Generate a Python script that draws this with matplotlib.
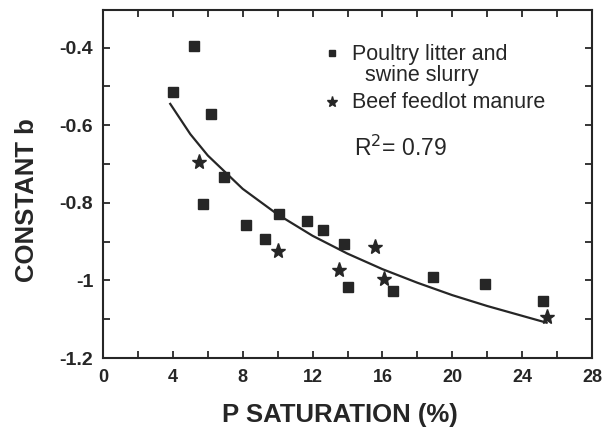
import matplotlib
matplotlib.use("Agg")
import matplotlib.pyplot as plt
from matplotlib.ticker import MultipleLocator
from matplotlib.transforms import ScaledTranslation

plt.rcParams["font.family"] = ["Liberation Sans", "DejaVu Sans"]

# Poultry litter and swine slurry (squares)
poultry_x = [4.0, 5.2, 6.2, 6.9, 5.7, 8.2, 10.1, 9.3, 11.7, 12.6, 13.8, 14.0, 16.6, 18.9, 21.9, 25.2]
poultry_y = [-0.515, -0.395, -0.57, -0.733, -0.802, -0.857, -0.828, -0.893, -0.846, -0.869,
             -0.905, -1.018, -1.028, -0.99, -1.01, -1.054]

# Beef feedlot manure (stars)
beef_x = [5.5, 10.0, 13.5, 15.6, 16.1, 25.4]
beef_y = [-0.695, -0.923, -0.974, -0.915, -0.997, -1.095]

# fitted curve
curve_x = [3.85, 5, 6, 8, 10, 12, 14, 16, 18, 20, 22, 25.4]
curve_y = [-0.545, -0.623, -0.678, -0.764, -0.830, -0.885, -0.931, -0.971, -1.006, -1.038, -1.066, -1.109]

ink = "#262626"

fig = plt.figure(figsize=(6.03, 4.29), dpi=100)
ax = fig.add_axes([0.1708, 0.1655, 0.811, 0.8112])

ax.plot(curve_x, curve_y, color=ink, linewidth=1.6)
ax.plot(poultry_x, poultry_y, "s", color=ink, markersize=7, linestyle="none")
ax.plot(beef_x, beef_y, "*", color=ink, markersize=11, linestyle="none")

ax.set_xlim(0, 28)
ax.set_ylim(-1.2, -0.303)
ax.xaxis.set_major_locator(MultipleLocator(4))
ax.xaxis.set_minor_locator(MultipleLocator(2))
ax.yaxis.set_minor_locator(MultipleLocator(0.1))
ax.set_yticks([-0.4, -0.6, -0.8, -1.0, -1.2])
ax.set_yticklabels(["-0.4", "-0.6", "-0.8", "-1", "-1.2"])

for side in ax.spines.values():
    side.set_linewidth(1.5)
    side.set_color(ink)
ax.tick_params(which="both", direction="in", top=True, right=True, length=5,
               width=1.3, color=ink)
ax.tick_params(axis="x", which="major", pad=8, labelsize=13, labelcolor=ink)
ax.tick_params(axis="y", which="major", pad=7, labelsize=14, labelcolor=ink)
for lab in ax.get_xticklabels() + ax.get_yticklabels():
    lab.set_fontweight("bold")

# end labels sit a little inside the frame in the original
xlabs = ax.get_xticklabels()
xlabs[0].set_transform(xlabs[0].get_transform() + ScaledTranslation(5 / 100, 0, fig.dpi_scale_trans))
xlabs[-1].set_transform(xlabs[-1].get_transform() + ScaledTranslation(-5 / 100, 0, fig.dpi_scale_trans))

ax.set_xlabel("P SATURATION (%)", fontsize=18.5, fontweight="bold", color=ink)
ax.set_ylabel("CONSTANT b", fontsize=18.5, fontweight="bold", color=ink)
ax.xaxis.set_label_coords(0.484, -0.13)
ax.yaxis.set_label_coords(-0.13, 0.455)

# legend drawn by hand so the square lines up with the first text line
ax.plot([0.469], [0.876], "s", color=ink, markersize=5, transform=ax.transAxes)
ax.plot([0.469], [0.736], "*", color=ink, markersize=8, transform=ax.transAxes)
ax.text(0.51, 0.871, "Poultry litter and", transform=ax.transAxes, fontsize=15.5,
        color=ink, va="center")
ax.text(0.536, 0.813, "swine slurry", transform=ax.transAxes, fontsize=15.5,
        color=ink, va="center")
ax.text(0.51, 0.733, "Beef feedlot manure", transform=ax.transAxes, fontsize=15.5,
        color=ink, va="center")
ax.text(0.514, 0.603, r"R$^2$= 0.79", transform=ax.transAxes, fontsize=16.5,
        color=ink, va="center")

fig.savefig("out.png", dpi=100)
